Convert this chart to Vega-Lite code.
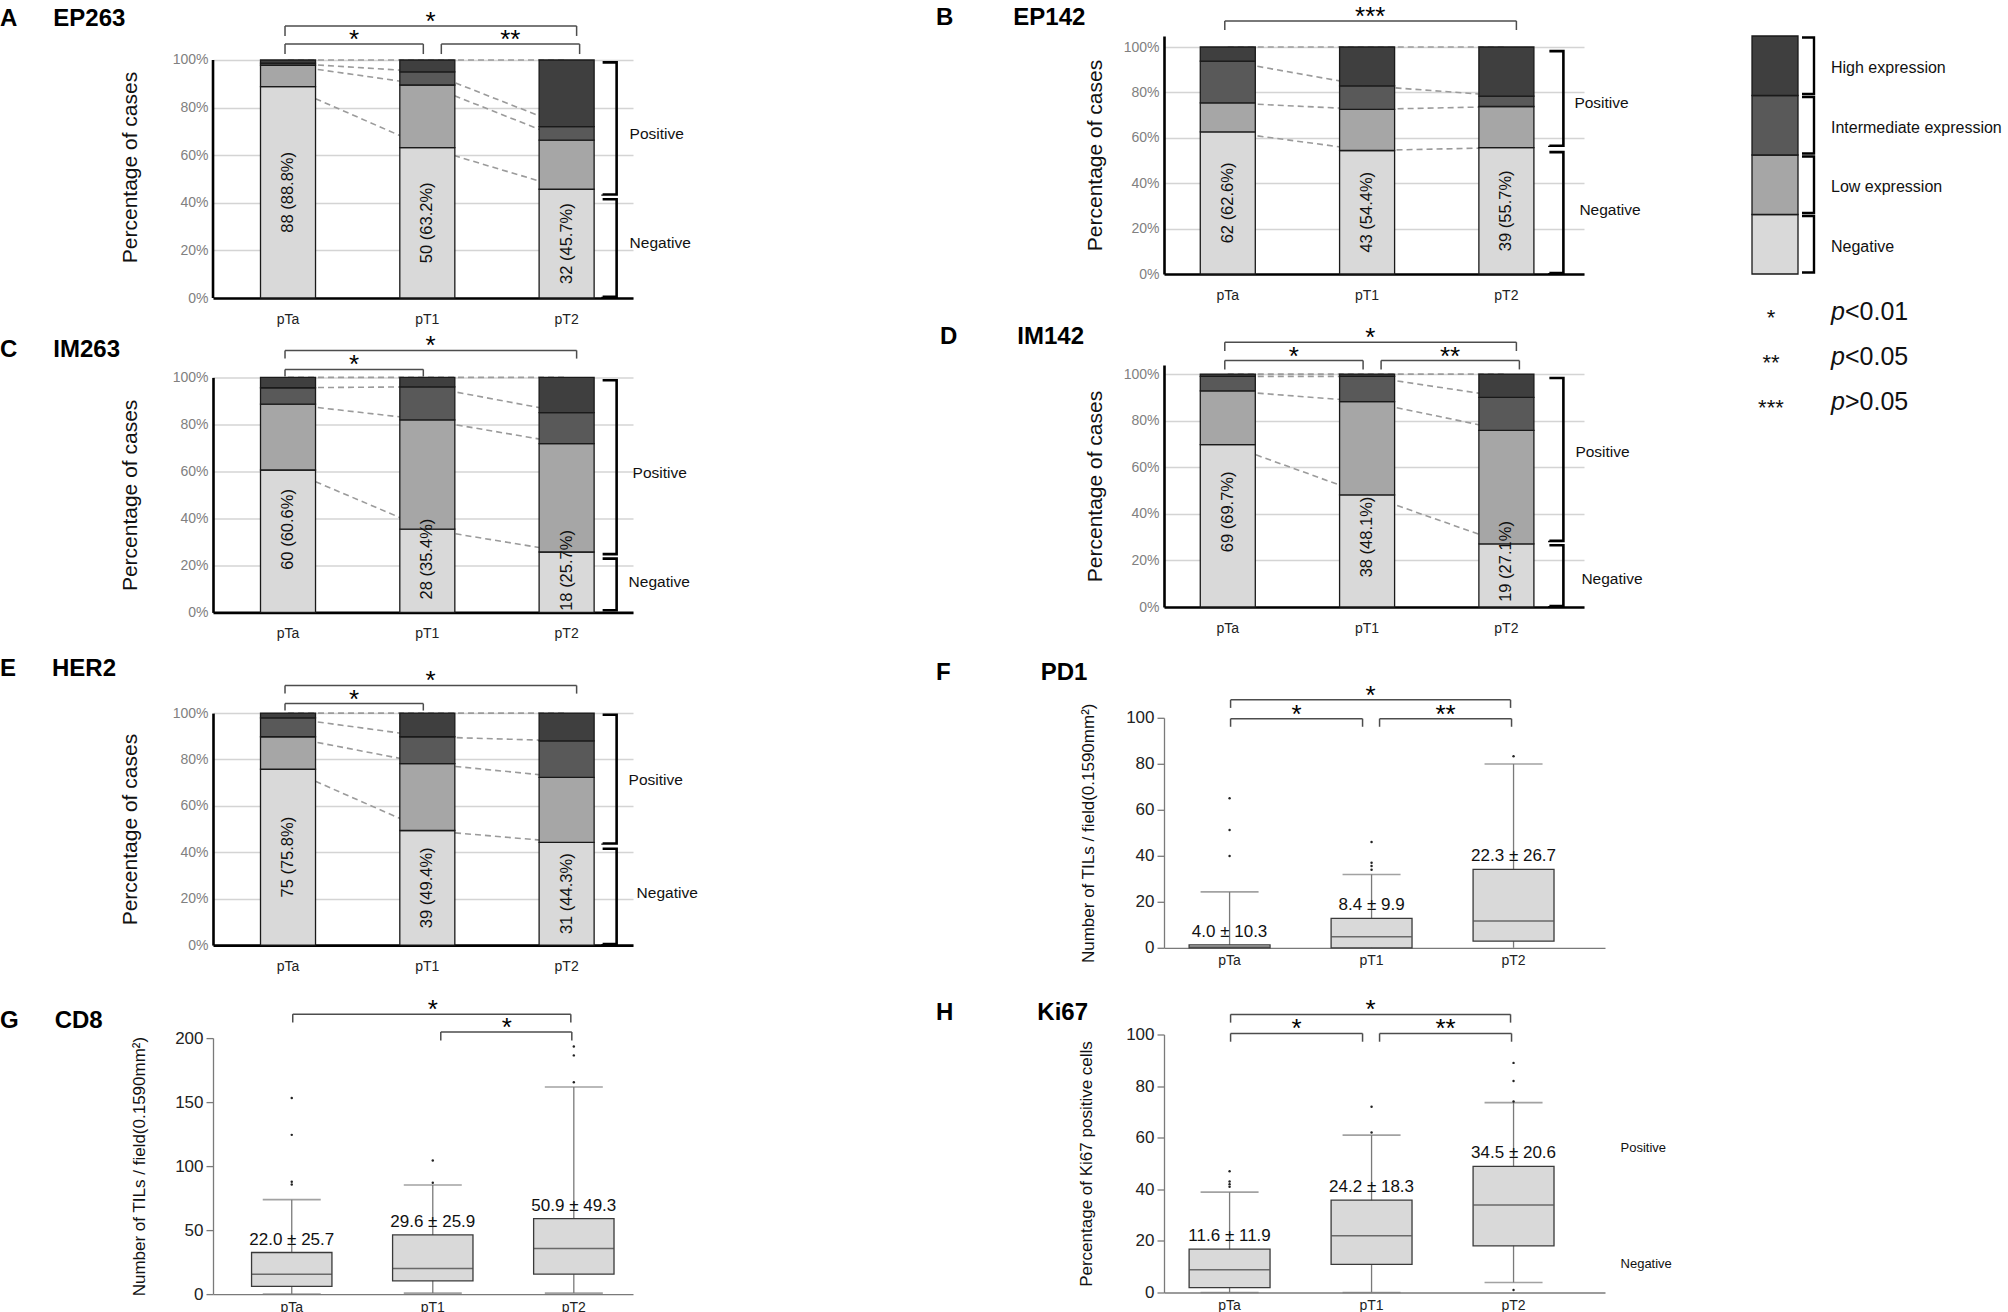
{
"$schema": "https://vega.github.io/schema/vega-lite/v6.json",
"background": "white",
"padding": {"left": 0, "top": 3, "right": 0, "bottom": 0},
"config": {"font": "Liberation Sans", "view": {"stroke": null}},
"datasets": {
"ep263": [
{"stage":"pTa","cat":"Negative","k":0,"pct":88.8,"lab":"88 (88.8%)"},{"stage":"pTa","cat":"Low expression","k":1,"pct":9.0},{"stage":"pTa","cat":"Intermediate expression","k":2,"pct":0.9},{"stage":"pTa","cat":"High expression","k":3,"pct":1.3},
{"stage":"pT1","cat":"Negative","k":0,"pct":63.2,"lab":"50 (63.2%)"},{"stage":"pT1","cat":"Low expression","k":1,"pct":26.3},{"stage":"pT1","cat":"Intermediate expression","k":2,"pct":5.5},{"stage":"pT1","cat":"High expression","k":3,"pct":5.0},
{"stage":"pT2","cat":"Negative","k":0,"pct":45.7,"lab":"32 (45.7%)"},{"stage":"pT2","cat":"Low expression","k":1,"pct":20.6},{"stage":"pT2","cat":"Intermediate expression","k":2,"pct":5.7},{"stage":"pT2","cat":"High expression","k":3,"pct":28.0}],
"ep142": [
{"stage":"pTa","cat":"Negative","k":0,"pct":62.6,"lab":"62 (62.6%)"},{"stage":"pTa","cat":"Low expression","k":1,"pct":12.8},{"stage":"pTa","cat":"Intermediate expression","k":2,"pct":18.4},{"stage":"pTa","cat":"High expression","k":3,"pct":6.2},
{"stage":"pT1","cat":"Negative","k":0,"pct":54.4,"lab":"43 (54.4%)"},{"stage":"pT1","cat":"Low expression","k":1,"pct":18.1},{"stage":"pT1","cat":"Intermediate expression","k":2,"pct":10.4},{"stage":"pT1","cat":"High expression","k":3,"pct":17.1},
{"stage":"pT2","cat":"Negative","k":0,"pct":55.7,"lab":"39 (55.7%)"},{"stage":"pT2","cat":"Low expression","k":1,"pct":18.1},{"stage":"pT2","cat":"Intermediate expression","k":2,"pct":4.6},{"stage":"pT2","cat":"High expression","k":3,"pct":21.6}],
"im263": [
{"stage":"pTa","cat":"Negative","k":0,"pct":60.6,"lab":"60 (60.6%)"},{"stage":"pTa","cat":"Low expression","k":1,"pct":28.0},{"stage":"pTa","cat":"Intermediate expression","k":2,"pct":7.0},{"stage":"pTa","cat":"High expression","k":3,"pct":4.4},
{"stage":"pT1","cat":"Negative","k":0,"pct":35.4,"lab":"28 (35.4%)"},{"stage":"pT1","cat":"Low expression","k":1,"pct":46.5},{"stage":"pT1","cat":"Intermediate expression","k":2,"pct":14.1},{"stage":"pT1","cat":"High expression","k":3,"pct":4.0},
{"stage":"pT2","cat":"Negative","k":0,"pct":25.7,"lab":"18 (25.7%)"},{"stage":"pT2","cat":"Low expression","k":1,"pct":46.1},{"stage":"pT2","cat":"Intermediate expression","k":2,"pct":13.2},{"stage":"pT2","cat":"High expression","k":3,"pct":15.0}],
"im142": [
{"stage":"pTa","cat":"Negative","k":0,"pct":69.7,"lab":"69 (69.7%)"},{"stage":"pTa","cat":"Low expression","k":1,"pct":23.1},{"stage":"pTa","cat":"Intermediate expression","k":2,"pct":6.2},{"stage":"pTa","cat":"High expression","k":3,"pct":1.0},
{"stage":"pT1","cat":"Negative","k":0,"pct":48.1,"lab":"38 (48.1%)"},{"stage":"pT1","cat":"Low expression","k":1,"pct":40.1},{"stage":"pT1","cat":"Intermediate expression","k":2,"pct":10.8},{"stage":"pT1","cat":"High expression","k":3,"pct":1.0},
{"stage":"pT2","cat":"Negative","k":0,"pct":27.1,"lab":"19 (27.1%)"},{"stage":"pT2","cat":"Low expression","k":1,"pct":48.7},{"stage":"pT2","cat":"Intermediate expression","k":2,"pct":14.2},{"stage":"pT2","cat":"High expression","k":3,"pct":10.0}],
"her2": [
{"stage":"pTa","cat":"Negative","k":0,"pct":75.8,"lab":"75 (75.8%)"},{"stage":"pTa","cat":"Low expression","k":1,"pct":14.0},{"stage":"pTa","cat":"Intermediate expression","k":2,"pct":8.1},{"stage":"pTa","cat":"High expression","k":3,"pct":2.1},
{"stage":"pT1","cat":"Negative","k":0,"pct":49.4,"lab":"39 (49.4%)"},{"stage":"pT1","cat":"Low expression","k":1,"pct":28.8},{"stage":"pT1","cat":"Intermediate expression","k":2,"pct":11.6},{"stage":"pT1","cat":"High expression","k":3,"pct":10.2},
{"stage":"pT2","cat":"Negative","k":0,"pct":44.3,"lab":"31 (44.3%)"},{"stage":"pT2","cat":"Low expression","k":1,"pct":28.0},{"stage":"pT2","cat":"Intermediate expression","k":2,"pct":15.7},{"stage":"pT2","cat":"High expression","k":3,"pct":12.0}],
"boxF": [
{"stage":"pTa","lo":0,"q1":0,"med":0.4,"q3":1.3,"hi":24.3,"lab":"4.0 ± 10.3"},
{"stage":"pT1","lo":0,"q1":0,"med":4.8,"q3":12.8,"hi":31.9,"lab":"8.4 ± 9.9"},
{"stage":"pT2","lo":0,"q1":2.9,"med":11.7,"q3":34.1,"hi":79.9,"lab":"22.3 ± 26.7"}],
"outF": [{"stage":"pTa","v":39.9},{"stage":"pTa","v":51.2},{"stage":"pTa","v":65},{"stage":"pT1","v":33.9},{"stage":"pT1","v":35.6},{"stage":"pT1","v":37},{"stage":"pT1","v":46},{"stage":"pT2","v":83.3}],
"boxG": [
{"stage":"pTa","lo":0,"q1":6,"med":15.6,"q3":32.5,"hi":73.8,"lab":"22.0 ± 25.7"},
{"stage":"pT1","lo":0.8,"q1":10.4,"med":20,"q3":46.2,"hi":85.2,"lab":"29.6 ± 25.9"},
{"stage":"pT2","lo":0.8,"q1":15.6,"med":35.6,"q3":59,"hi":161.8,"lab":"50.9 ± 49.3"}],
"outG": [{"stage":"pTa","v":85.7},{"stage":"pTa","v":87.8},{"stage":"pTa","v":124.4},{"stage":"pTa","v":153.2},{"stage":"pT1","v":87},{"stage":"pT1","v":104.4},{"stage":"pT2","v":165.5},{"stage":"pT2","v":186.5},{"stage":"pT2","v":193.5}],
"boxH": [
{"stage":"pTa","lo":0,"q1":1.9,"med":8.8,"q3":16.8,"hi":38.9,"lab":"11.6 ± 11.9"},
{"stage":"pT1","lo":0,"q1":10.9,"med":22,"q3":35.8,"hi":61,"lab":"24.2 ± 18.3"},
{"stage":"pT2","lo":3.9,"q1":18.1,"med":33.9,"q3":48.9,"hi":73.6,"lab":"34.5 ± 20.6"}],
"outH": [{"stage":"pTa","v":41},{"stage":"pTa","v":42},{"stage":"pTa","v":43},{"stage":"pTa","v":47},{"stage":"pT1","v":62},{"stage":"pT1","v":72},{"stage":"pT2","v":1},{"stage":"pT2","v":74},{"stage":"pT2","v":82},{"stage":"pT2","v":89}],
"sigA": [{"from":"pTa","to":"pT2","tier":"outer","star":"*"},{"from":"pTa","to":"pT1","tier":"left","star":"*"},{"from":"pT1","to":"pT2","tier":"right","star":"**"}],
"sigB": [{"from":"pTa","to":"pT2","tier":"outer","star":"***"}],
"sigC": [{"from":"pTa","to":"pT2","tier":"outer","star":"*"},{"from":"pTa","to":"pT1","tier":"left","star":"*"}],
"sigD": [{"from":"pTa","to":"pT2","tier":"outer","star":"*"},{"from":"pTa","to":"pT1","tier":"left","star":"*"},{"from":"pT1","to":"pT2","tier":"right","star":"**"}],
"sigE": [{"from":"pTa","to":"pT2","tier":"outer","star":"*"},{"from":"pTa","to":"pT1","tier":"left","star":"*"}],
"sigF": [{"from":"pTa","to":"pT2","tier":"outer","star":"*"},{"from":"pTa","to":"pT1","tier":"left","star":"*"},{"from":"pT1","to":"pT2","tier":"right","star":"**"}],
"sigG": [{"from":"pTa","to":"pT2","tier":"outer","star":"*"},{"from":"pT1","to":"pT2","tier":"right","star":"*"}],
"sigH": [{"from":"pTa","to":"pT2","tier":"outer","star":"*"},{"from":"pTa","to":"pT1","tier":"left","star":"*"},{"from":"pT1","to":"pT2","tier":"right","star":"**"}],
"legend": [{"cat":"Negative","k":0,"n":1},{"cat":"Low expression","k":1,"n":1},{"cat":"Intermediate expression","k":2,"n":1},{"cat":"High expression","k":3,"n":1}],
"pvals": [{"sig":"*","cmp":"<0.01"},{"sig":"**","cmp":"<0.05"},{"sig":"***","cmp":">0.05"}]
},
"spacing": 238,
"hconcat": [
{"spacing": 16.1, "vconcat": [
{"spacing": 6.4, "vconcat": [
{"width":420,"height":262,
 "title":{"text":"A\u2003\u2002EP263","anchor":"start","frame":"group","offset":0,"dx":-213,"dy":22,"fontSize":24,"fontWeight":"bold","color":"#000"},
 "resolve":{"scale":{"y":"independent"}},
 "layer":[
  {"layer":[
   {"data":{"name":"ep263"},"transform":[{"stack":"pct","groupby":["stage"],"sort":[{"field":"k"}],"as":["y0","y1"]}],"mark":{"type":"line","color":"#9b9b9b","strokeDash":[6,4],"strokeWidth":1.6},"encoding":{"x":{"field":"stage","type":"nominal","scale":{"domain":["pTa","pT1","pT2"],"paddingInner":0.605,"paddingOuter":0.31,"align":0.55},"axis":{"title":null,"domainColor":"#000","domainWidth":2.6,"ticks":false,"labelFontSize":14,"labelColor":"#222","labelPadding":14,"labelAngle":0}},"y":{"field":"y1","type":"quantitative","scale":{"domain":[0,110.08],"nice":false},"axis":{"title":"Percentage of cases","values":[0,20,40,60,80,100],"labelExpr":"datum.value + '%'","grid":true,"gridColor":"#d4d4d4","gridWidth":1.5,"domain":false,"ticks":false,"labelColor":"#808080","labelFontSize":14,"labelPadding":5,"titleFontSize":21,"titleFontWeight":"normal","titleColor":"#111","titlePadding":32}},"detail":{"field":"cat"},"order":{"value":null}}},
   {"data":{"name":"ep263"},"transform":[{"stack":"pct","groupby":["stage"],"sort":[{"field":"k"}],"as":["y0","y1"]}],"mark":{"type":"bar","stroke":"#1a1a1a","strokeWidth":1.3},"encoding":{"x":{"field":"stage","type":"nominal","scale":{"domain":["pTa","pT1","pT2"],"paddingInner":0.605,"paddingOuter":0.31,"align":0.55}},"y":{"field":"y0","type":"quantitative","scale":{"domain":[0,110.08],"nice":false}},"y2":{"field":"y1"},"color":{"field":"cat","type":"nominal","scale":{"domain":["Negative","Low expression","Intermediate expression","High expression"],"range":["#d9d9d9","#a6a6a6","#595959","#3f3f3f"]},"legend":null}}},
   {"data":{"values":[{}]},"mark":{"type":"rule","color":"#000","strokeWidth":2.6,"xOffset":-75},"encoding":{"x":{"datum":"pTa","type":"nominal","scale":{"domain":["pTa","pT1","pT2"]}},"y":{"datum":0},"y2":{"datum":100}}},
   {"data":{"values":[{}]},"mark":{"type":"bar","width":14,"xOffset":43,"filled":false,"stroke":"#000","strokeWidth":2.6,"strokeDash":[160.1,142.1]},"encoding":{"x":{"datum":"pT2","type":"nominal","scale":{"domain":["pTa","pT1","pT2"]}},"y":{"datum":43.5},"y2":{"datum":99}}},
   {"data":{"values":[{}]},"mark":{"type":"bar","width":14,"xOffset":43,"filled":false,"stroke":"#000","strokeWidth":2.6,"strokeDash":[125.6,107.6]},"encoding":{"x":{"datum":"pT2","type":"nominal","scale":{"domain":["pTa","pT1","pT2"]}},"y":{"datum":0.5},"y2":{"datum":41.5}}},
   {"data":{"values":[{}]},"mark":{"type":"text","align":"left","baseline":"middle","fontSize":15.5,"xOffset":63,"color":"#111"},"encoding":{"x":{"datum":"pT2","type":"nominal","scale":{"domain":["pTa","pT1","pT2"]}},"y":{"datum":69},"text":{"value":"Positive"}}},
   {"data":{"values":[{}]},"mark":{"type":"text","align":"left","baseline":"middle","fontSize":15.5,"xOffset":63,"color":"#111"},"encoding":{"x":{"datum":"pT2","type":"nominal","scale":{"domain":["pTa","pT1","pT2"]}},"y":{"datum":23},"text":{"value":"Negative"}}},
   {"data":{"name":"sigA"},"transform":[{"filter":{"field":"tier","equal":"outer"}}],"mark":{"type":"rule","color":"#4d4d4d","strokeWidth":1.5,"xOffset":-3,"x2Offset":10},"encoding":{"x":{"field":"from","type":"nominal","scale":{"domain":["pTa","pT1","pT2"]}},"x2":{"field":"to"},"y":{"datum":114.3}}},
   {"data":{"name":"sigA"},"transform":[{"filter":{"field":"tier","equal":"outer"}}],"mark":{"type":"rule","color":"#4d4d4d","strokeWidth":1.5,"xOffset":-3},"encoding":{"x":{"field":"from","type":"nominal","scale":{"domain":["pTa","pT1","pT2"]}},"y":{"datum":114.3},"y2":{"datum":110.1}}},
   {"data":{"name":"sigA"},"transform":[{"filter":{"field":"tier","equal":"outer"}}],"mark":{"type":"rule","color":"#4d4d4d","strokeWidth":1.5,"xOffset":10},"encoding":{"x":{"field":"to","type":"nominal","scale":{"domain":["pTa","pT1","pT2"]}},"y":{"datum":114.3},"y2":{"datum":110.1}}},
   {"data":{"name":"sigA"},"transform":[{"filter":{"field":"tier","equal":"outer"}}],"mark":{"type":"text","fontSize":26,"baseline":"alphabetic","dy":4,"xOffset":142.5,"color":"#000"},"encoding":{"x":{"field":"from","type":"nominal","scale":{"domain":["pTa","pT1","pT2"]}},"y":{"datum":114.3},"text":{"field":"star"}}},
   {"data":{"name":"sigA"},"transform":[{"filter":{"field":"tier","equal":"left"}}],"mark":{"type":"rule","color":"#4d4d4d","strokeWidth":1.5,"xOffset":-3,"x2Offset":-4},"encoding":{"x":{"field":"from","type":"nominal","scale":{"domain":["pTa","pT1","pT2"]}},"x2":{"field":"to"},"y":{"datum":106.7}}},
   {"data":{"name":"sigA"},"transform":[{"filter":{"field":"tier","equal":"left"}}],"mark":{"type":"rule","color":"#4d4d4d","strokeWidth":1.5,"xOffset":-3},"encoding":{"x":{"field":"from","type":"nominal","scale":{"domain":["pTa","pT1","pT2"]}},"y":{"datum":106.7},"y2":{"datum":102.5}}},
   {"data":{"name":"sigA"},"transform":[{"filter":{"field":"tier","equal":"left"}}],"mark":{"type":"rule","color":"#4d4d4d","strokeWidth":1.5,"xOffset":-4},"encoding":{"x":{"field":"to","type":"nominal","scale":{"domain":["pTa","pT1","pT2"]}},"y":{"datum":106.7},"y2":{"datum":102.5}}},
   {"data":{"name":"sigA"},"transform":[{"filter":{"field":"tier","equal":"left"}}],"mark":{"type":"text","fontSize":26,"baseline":"alphabetic","dy":4,"xOffset":66,"color":"#000"},"encoding":{"x":{"field":"from","type":"nominal","scale":{"domain":["pTa","pT1","pT2"]}},"y":{"datum":106.7},"text":{"field":"star"}}},
   {"data":{"name":"sigA"},"transform":[{"filter":{"field":"tier","equal":"right"}}],"mark":{"type":"rule","color":"#4d4d4d","strokeWidth":1.5,"xOffset":14,"x2Offset":13},"encoding":{"x":{"field":"from","type":"nominal","scale":{"domain":["pTa","pT1","pT2"]}},"x2":{"field":"to"},"y":{"datum":106.7}}},
   {"data":{"name":"sigA"},"transform":[{"filter":{"field":"tier","equal":"right"}}],"mark":{"type":"rule","color":"#4d4d4d","strokeWidth":1.5,"xOffset":14},"encoding":{"x":{"field":"from","type":"nominal","scale":{"domain":["pTa","pT1","pT2"]}},"y":{"datum":106.7},"y2":{"datum":102.5}}},
   {"data":{"name":"sigA"},"transform":[{"filter":{"field":"tier","equal":"right"}}],"mark":{"type":"rule","color":"#4d4d4d","strokeWidth":1.5,"xOffset":13},"encoding":{"x":{"field":"to","type":"nominal","scale":{"domain":["pTa","pT1","pT2"]}},"y":{"datum":106.7},"y2":{"datum":102.5}}},
   {"data":{"name":"sigA"},"transform":[{"filter":{"field":"tier","equal":"right"}}],"mark":{"type":"text","fontSize":26,"baseline":"alphabetic","dy":4,"xOffset":83,"color":"#000"},"encoding":{"x":{"field":"from","type":"nominal","scale":{"domain":["pTa","pT1","pT2"]}},"y":{"datum":106.7},"text":{"field":"star"}}}
  ]},
  {"data":{"name":"ep263"},"transform":[{"filter":{"field":"cat","equal":"Negative"}}],"mark":{"type":"text","angle":270,"fontSize":16.5,"color":"#111"},"encoding":{"x":{"field":"stage","type":"nominal","scale":{"domain":["pTa","pT1","pT2"]}},"y":{"field":"pct","type":"quantitative","scale":{"domain":[0,220.17],"nice":false},"axis":null},"text":{"field":"lab"}}}
 ]},
{"width":420,"height":235,
 "title":{"text":"C\u2003\u2002IM263","anchor":"start","frame":"group","offset":0,"dx":-213,"dy":29,"fontSize":24,"fontWeight":"bold","color":"#000"},
 "resolve":{"scale":{"y":"independent"}},
 "layer":[
  {"layer":[
   {"data":{"name":"im263"},"transform":[{"stack":"pct","groupby":["stage"],"sort":[{"field":"k"}],"as":["y0","y1"]}],"mark":{"type":"line","color":"#9b9b9b","strokeDash":[6,4],"strokeWidth":1.6},"encoding":{"x":{"field":"stage","type":"nominal","scale":{"domain":["pTa","pT1","pT2"],"paddingInner":0.605,"paddingOuter":0.31,"align":0.55},"axis":{"title":null,"domainColor":"#000","domainWidth":2.6,"ticks":false,"labelFontSize":14,"labelColor":"#222","labelPadding":14,"labelAngle":0}},"y":{"field":"y1","type":"quantitative","scale":{"domain":[0,100],"nice":false},"axis":{"title":"Percentage of cases","values":[0,20,40,60,80,100],"labelExpr":"datum.value + '%'","grid":true,"gridColor":"#d4d4d4","gridWidth":1.5,"domainColor":"#000","domainWidth":2.6,"ticks":false,"labelColor":"#808080","labelFontSize":14,"labelPadding":5,"titleFontSize":21,"titleFontWeight":"normal","titleColor":"#111","titlePadding":32}},"detail":{"field":"cat"},"order":{"value":null}}},
   {"data":{"name":"im263"},"transform":[{"stack":"pct","groupby":["stage"],"sort":[{"field":"k"}],"as":["y0","y1"]}],"mark":{"type":"bar","stroke":"#1a1a1a","strokeWidth":1.3},"encoding":{"x":{"field":"stage","type":"nominal","scale":{"domain":["pTa","pT1","pT2"],"paddingInner":0.605,"paddingOuter":0.31,"align":0.55}},"y":{"field":"y0","type":"quantitative","scale":{"domain":[0,100],"nice":false}},"y2":{"field":"y1"},"color":{"field":"cat","type":"nominal","scale":{"domain":["Negative","Low expression","Intermediate expression","High expression"],"range":["#d9d9d9","#a6a6a6","#595959","#3f3f3f"]},"legend":null}}},
   {"data":{"values":[{}]},"mark":{"type":"bar","width":14,"xOffset":43,"filled":false,"stroke":"#000","strokeWidth":2.6,"strokeDash":[201.9,183.9]},"encoding":{"x":{"datum":"pT2","type":"nominal","scale":{"domain":["pTa","pT1","pT2"]}},"y":{"datum":24.8},"y2":{"datum":98.8}}},
   {"data":{"values":[{}]},"mark":{"type":"bar","width":14,"xOffset":43,"filled":false,"stroke":"#000","strokeWidth":2.6,"strokeDash":[79.7,61.7]},"encoding":{"x":{"datum":"pT2","type":"nominal","scale":{"domain":["pTa","pT1","pT2"]}},"y":{"datum":0.9},"y2":{"datum":22.9}}},
   {"data":{"values":[{}]},"mark":{"type":"text","align":"left","baseline":"middle","fontSize":15.5,"xOffset":66,"color":"#111"},"encoding":{"x":{"datum":"pT2","type":"nominal","scale":{"domain":["pTa","pT1","pT2"]}},"y":{"datum":59.5},"text":{"value":"Positive"}}},
   {"data":{"values":[{}]},"mark":{"type":"text","align":"left","baseline":"middle","fontSize":15.5,"xOffset":62,"color":"#111"},"encoding":{"x":{"datum":"pT2","type":"nominal","scale":{"domain":["pTa","pT1","pT2"]}},"y":{"datum":12.9},"text":{"value":"Negative"}}},
   {"data":{"name":"sigC"},"transform":[{"filter":{"field":"tier","equal":"outer"}}],"mark":{"type":"rule","color":"#4d4d4d","strokeWidth":1.5,"xOffset":-3,"x2Offset":10},"encoding":{"x":{"field":"from","type":"nominal","scale":{"domain":["pTa","pT1","pT2"]}},"x2":{"field":"to"},"y":{"datum":111.5}}},
   {"data":{"name":"sigC"},"transform":[{"filter":{"field":"tier","equal":"outer"}}],"mark":{"type":"rule","color":"#4d4d4d","strokeWidth":1.5,"xOffset":-3},"encoding":{"x":{"field":"from","type":"nominal","scale":{"domain":["pTa","pT1","pT2"]}},"y":{"datum":111.5},"y2":{"datum":108}}},
   {"data":{"name":"sigC"},"transform":[{"filter":{"field":"tier","equal":"outer"}}],"mark":{"type":"rule","color":"#4d4d4d","strokeWidth":1.5,"xOffset":10},"encoding":{"x":{"field":"to","type":"nominal","scale":{"domain":["pTa","pT1","pT2"]}},"y":{"datum":111.5},"y2":{"datum":108}}},
   {"data":{"name":"sigC"},"transform":[{"filter":{"field":"tier","equal":"outer"}}],"mark":{"type":"text","fontSize":26,"baseline":"alphabetic","dy":4,"xOffset":142.5,"color":"#000"},"encoding":{"x":{"field":"from","type":"nominal","scale":{"domain":["pTa","pT1","pT2"]}},"y":{"datum":111.5},"text":{"field":"star"}}},
   {"data":{"name":"sigC"},"transform":[{"filter":{"field":"tier","equal":"left"}}],"mark":{"type":"rule","color":"#4d4d4d","strokeWidth":1.5,"xOffset":-3,"x2Offset":-4},"encoding":{"x":{"field":"from","type":"nominal","scale":{"domain":["pTa","pT1","pT2"]}},"x2":{"field":"to"},"y":{"datum":103.4}}},
   {"data":{"name":"sigC"},"transform":[{"filter":{"field":"tier","equal":"left"}}],"mark":{"type":"rule","color":"#4d4d4d","strokeWidth":1.5,"xOffset":-3},"encoding":{"x":{"field":"from","type":"nominal","scale":{"domain":["pTa","pT1","pT2"]}},"y":{"datum":103.4},"y2":{"datum":100.4}}},
   {"data":{"name":"sigC"},"transform":[{"filter":{"field":"tier","equal":"left"}}],"mark":{"type":"rule","color":"#4d4d4d","strokeWidth":1.5,"xOffset":-4},"encoding":{"x":{"field":"to","type":"nominal","scale":{"domain":["pTa","pT1","pT2"]}},"y":{"datum":103.4},"y2":{"datum":100.4}}},
   {"data":{"name":"sigC"},"transform":[{"filter":{"field":"tier","equal":"left"}}],"mark":{"type":"text","fontSize":26,"baseline":"alphabetic","dy":4,"xOffset":66,"color":"#000"},"encoding":{"x":{"field":"from","type":"nominal","scale":{"domain":["pTa","pT1","pT2"]}},"y":{"datum":103.4},"text":{"field":"star"}}}
  ]},
  {"data":{"name":"im263"},"transform":[{"filter":{"field":"cat","equal":"Negative"}}],"mark":{"type":"text","angle":270,"fontSize":16.5,"color":"#111"},"encoding":{"x":{"field":"stage","type":"nominal","scale":{"domain":["pTa","pT1","pT2"]}},"y":{"field":"pct","type":"quantitative","scale":{"domain":[-10,190],"nice":false,"zero":false},"axis":null},"text":{"field":"lab"}}}
 ]}
]},
{"spacing": 24, "vconcat": [
{"width":420,"height":232,
 "title":{"text":"E\u2003\u2002HER2","anchor":"start","frame":"group","offset":0,"dx":-213,"dy":13,"fontSize":24,"fontWeight":"bold","color":"#000"},
 "resolve":{"scale":{"y":"independent"}},
 "layer":[
  {"layer":[
   {"data":{"name":"her2"},"transform":[{"stack":"pct","groupby":["stage"],"sort":[{"field":"k"}],"as":["y0","y1"]}],"mark":{"type":"line","color":"#9b9b9b","strokeDash":[6,4],"strokeWidth":1.6},"encoding":{"x":{"field":"stage","type":"nominal","scale":{"domain":["pTa","pT1","pT2"],"paddingInner":0.605,"paddingOuter":0.31,"align":0.55},"axis":{"title":null,"domainColor":"#000","domainWidth":2.6,"ticks":false,"labelFontSize":14,"labelColor":"#222","labelPadding":14,"labelAngle":0}},"y":{"field":"y1","type":"quantitative","scale":{"domain":[0,100],"nice":false},"axis":{"title":"Percentage of cases","values":[0,20,40,60,80,100],"labelExpr":"datum.value + '%'","grid":true,"gridColor":"#d4d4d4","gridWidth":1.5,"domainColor":"#000","domainWidth":2.6,"ticks":false,"labelColor":"#808080","labelFontSize":14,"labelPadding":5,"titleFontSize":21,"titleFontWeight":"normal","titleColor":"#111","titlePadding":32}},"detail":{"field":"cat"},"order":{"value":null}}},
   {"data":{"name":"her2"},"transform":[{"stack":"pct","groupby":["stage"],"sort":[{"field":"k"}],"as":["y0","y1"]}],"mark":{"type":"bar","stroke":"#1a1a1a","strokeWidth":1.3},"encoding":{"x":{"field":"stage","type":"nominal","scale":{"domain":["pTa","pT1","pT2"],"paddingInner":0.605,"paddingOuter":0.31,"align":0.55}},"y":{"field":"y0","type":"quantitative","scale":{"domain":[0,100],"nice":false}},"y2":{"field":"y1"},"color":{"field":"cat","type":"nominal","scale":{"domain":["Negative","Low expression","Intermediate expression","High expression"],"range":["#d9d9d9","#a6a6a6","#595959","#3f3f3f"]},"legend":null}}},
   {"data":{"values":[{}]},"mark":{"type":"bar","width":14,"xOffset":43,"filled":false,"stroke":"#000","strokeWidth":2.6,"strokeDash":[156.8,138.8]},"encoding":{"x":{"datum":"pT2","type":"nominal","scale":{"domain":["pTa","pT1","pT2"]}},"y":{"datum":43.8},"y2":{"datum":99.3}}},
   {"data":{"values":[{}]},"mark":{"type":"bar","width":14,"xOffset":43,"filled":false,"stroke":"#000","strokeWidth":2.6,"strokeDash":[123.4,105.4]},"encoding":{"x":{"datum":"pT2","type":"nominal","scale":{"domain":["pTa","pT1","pT2"]}},"y":{"datum":0.4},"y2":{"datum":41.5}}},
   {"data":{"values":[{}]},"mark":{"type":"text","align":"left","baseline":"middle","fontSize":15.5,"xOffset":62,"color":"#111"},"encoding":{"x":{"datum":"pT2","type":"nominal","scale":{"domain":["pTa","pT1","pT2"]}},"y":{"datum":71},"text":{"value":"Positive"}}},
   {"data":{"values":[{}]},"mark":{"type":"text","align":"left","baseline":"middle","fontSize":15.5,"xOffset":70,"color":"#111"},"encoding":{"x":{"datum":"pT2","type":"nominal","scale":{"domain":["pTa","pT1","pT2"]}},"y":{"datum":22.4},"text":{"value":"Negative"}}},
   {"data":{"name":"sigE"},"transform":[{"filter":{"field":"tier","equal":"outer"}}],"mark":{"type":"rule","color":"#4d4d4d","strokeWidth":1.5,"xOffset":-3,"x2Offset":10},"encoding":{"x":{"field":"from","type":"nominal","scale":{"domain":["pTa","pT1","pT2"]}},"x2":{"field":"to"},"y":{"datum":111.9}}},
   {"data":{"name":"sigE"},"transform":[{"filter":{"field":"tier","equal":"outer"}}],"mark":{"type":"rule","color":"#4d4d4d","strokeWidth":1.5,"xOffset":-3},"encoding":{"x":{"field":"from","type":"nominal","scale":{"domain":["pTa","pT1","pT2"]}},"y":{"datum":111.9},"y2":{"datum":108.4}}},
   {"data":{"name":"sigE"},"transform":[{"filter":{"field":"tier","equal":"outer"}}],"mark":{"type":"rule","color":"#4d4d4d","strokeWidth":1.5,"xOffset":10},"encoding":{"x":{"field":"to","type":"nominal","scale":{"domain":["pTa","pT1","pT2"]}},"y":{"datum":111.9},"y2":{"datum":108.4}}},
   {"data":{"name":"sigE"},"transform":[{"filter":{"field":"tier","equal":"outer"}}],"mark":{"type":"text","fontSize":26,"baseline":"alphabetic","dy":4,"xOffset":142.5,"color":"#000"},"encoding":{"x":{"field":"from","type":"nominal","scale":{"domain":["pTa","pT1","pT2"]}},"y":{"datum":111.9},"text":{"field":"star"}}},
   {"data":{"name":"sigE"},"transform":[{"filter":{"field":"tier","equal":"left"}}],"mark":{"type":"rule","color":"#4d4d4d","strokeWidth":1.5,"xOffset":-3,"x2Offset":-4},"encoding":{"x":{"field":"from","type":"nominal","scale":{"domain":["pTa","pT1","pT2"]}},"x2":{"field":"to"},"y":{"datum":104.1}}},
   {"data":{"name":"sigE"},"transform":[{"filter":{"field":"tier","equal":"left"}}],"mark":{"type":"rule","color":"#4d4d4d","strokeWidth":1.5,"xOffset":-3},"encoding":{"x":{"field":"from","type":"nominal","scale":{"domain":["pTa","pT1","pT2"]}},"y":{"datum":104.1},"y2":{"datum":101.1}}},
   {"data":{"name":"sigE"},"transform":[{"filter":{"field":"tier","equal":"left"}}],"mark":{"type":"rule","color":"#4d4d4d","strokeWidth":1.5,"xOffset":-4},"encoding":{"x":{"field":"to","type":"nominal","scale":{"domain":["pTa","pT1","pT2"]}},"y":{"datum":104.1},"y2":{"datum":101.1}}},
   {"data":{"name":"sigE"},"transform":[{"filter":{"field":"tier","equal":"left"}}],"mark":{"type":"text","fontSize":26,"baseline":"alphabetic","dy":4,"xOffset":66,"color":"#000"},"encoding":{"x":{"field":"from","type":"nominal","scale":{"domain":["pTa","pT1","pT2"]}},"y":{"datum":104.1},"text":{"field":"star"}}}
  ]},
  {"data":{"name":"her2"},"transform":[{"filter":{"field":"cat","equal":"Negative"}}],"mark":{"type":"text","angle":270,"fontSize":16.5,"color":"#111"},"encoding":{"x":{"field":"stage","type":"nominal","scale":{"domain":["pTa","pT1","pT2"]}},"y":{"field":"pct","type":"quantitative","scale":{"domain":[0,200],"nice":false},"axis":null},"text":{"field":"lab"}}}
 ]},
{"width":420,"height":256,
 "title":{"text":"G\u2003\u2002CD8","anchor":"start","frame":"group","offset":0,"dx":-213,"dy":36,"fontSize":24,"fontWeight":"bold","color":"#000"},
 "layer":[
  {"data":{"name":"boxG"},"mark":{"type":"rule","color":"#7a7a7a","strokeWidth":1.3},"encoding":{"x":{"field":"stage","type":"nominal","scale":{"domain":["pTa","pT1","pT2"],"paddingInner":0.43,"paddingOuter":0.204,"align":0.67},"axis":{"title":null,"domainColor":"#7a7a7a","domainWidth":1.3,"ticks":false,"labelFontSize":14,"labelColor":"#222","labelPadding":6,"labelAngle":0}},"y":{"field":"lo","type":"quantitative","scale":{"domain":[0,200],"nice":false},"axis":{"title":"Number of TILs / field(0.1590mm²)","values":[0,50,100,150,200],"grid":false,"domainColor":"#7a7a7a","domainWidth":1.3,"tickColor":"#7a7a7a","tickSize":7,"tickWidth":1.3,"labelFontSize":17,"labelColor":"#222","labelPadding":3,"titleFontSize":17,"titleFontWeight":"normal","titleColor":"#111","titlePadding":26}},"y2":{"field":"hi"}}},
  {"data":{"name":"boxG"},"mark":{"type":"tick","orient":"horizontal","size":58,"thickness":1.6,"color":"#7a7a7a"},"encoding":{"x":{"field":"stage","type":"nominal","scale":{"domain":["pTa","pT1","pT2"]}},"y":{"field":"hi","type":"quantitative"}}},
  {"data":{"name":"boxG"},"mark":{"type":"tick","orient":"horizontal","size":58,"thickness":1.6,"color":"#7a7a7a"},"encoding":{"x":{"field":"stage","type":"nominal","scale":{"domain":["pTa","pT1","pT2"]}},"y":{"field":"lo","type":"quantitative"}}},
  {"data":{"name":"boxG"},"mark":{"type":"bar","fill":"#d9d9d9","stroke":"#3a3a3a","strokeWidth":1.3},"encoding":{"x":{"field":"stage","type":"nominal","scale":{"domain":["pTa","pT1","pT2"]}},"y":{"field":"q1","type":"quantitative"},"y2":{"field":"q3"}}},
  {"data":{"name":"boxG"},"mark":{"type":"tick","orient":"horizontal","size":80,"thickness":1.5,"color":"#3a3a3a"},"encoding":{"x":{"field":"stage","type":"nominal","scale":{"domain":["pTa","pT1","pT2"]}},"y":{"field":"med","type":"quantitative"}}},
  {"data":{"name":"outG"},"mark":{"type":"point","filled":true,"size":6,"color":"#222","opacity":1},"encoding":{"x":{"field":"stage","type":"nominal","scale":{"domain":["pTa","pT1","pT2"]}},"y":{"field":"v","type":"quantitative"}}},
  {"data":{"name":"boxG"},"mark":{"type":"text","baseline":"bottom","dy":-4,"fontSize":17,"color":"#111"},"encoding":{"x":{"field":"stage","type":"nominal","scale":{"domain":["pTa","pT1","pT2"]}},"y":{"field":"q3","type":"quantitative"},"text":{"field":"lab"}}},
  {"data":{"name":"sigG"},"transform":[{"filter":{"field":"tier","equal":"outer"}}],"mark":{"type":"rule","color":"#4d4d4d","strokeWidth":1.5,"xOffset":1,"x2Offset":-3},"encoding":{"x":{"field":"from","type":"nominal","scale":{"domain":["pTa","pT1","pT2"]}},"x2":{"field":"to"},"y":{"datum":218.7}}},
  {"data":{"name":"sigG"},"transform":[{"filter":{"field":"tier","equal":"outer"}}],"mark":{"type":"rule","color":"#4d4d4d","strokeWidth":1.5,"xOffset":1},"encoding":{"x":{"field":"from","type":"nominal","scale":{"domain":["pTa","pT1","pT2"]}},"y":{"datum":218.7},"y2":{"datum":212.2}}},
  {"data":{"name":"sigG"},"transform":[{"filter":{"field":"tier","equal":"outer"}}],"mark":{"type":"rule","color":"#4d4d4d","strokeWidth":1.5,"xOffset":-3},"encoding":{"x":{"field":"to","type":"nominal","scale":{"domain":["pTa","pT1","pT2"]}},"y":{"datum":218.7},"y2":{"datum":212.2}}},
  {"data":{"name":"sigG"},"transform":[{"filter":{"field":"tier","equal":"outer"}}],"mark":{"type":"text","fontSize":26,"baseline":"alphabetic","dy":4,"xOffset":141,"color":"#000"},"encoding":{"x":{"field":"from","type":"nominal","scale":{"domain":["pTa","pT1","pT2"]}},"y":{"datum":218.7},"text":{"field":"star"}}},
  {"data":{"name":"sigG"},"transform":[{"filter":{"field":"tier","equal":"right"}}],"mark":{"type":"rule","color":"#4d4d4d","strokeWidth":1.5,"xOffset":8,"x2Offset":-2},"encoding":{"x":{"field":"from","type":"nominal","scale":{"domain":["pTa","pT1","pT2"]}},"x2":{"field":"to"},"y":{"datum":204.7}}},
  {"data":{"name":"sigG"},"transform":[{"filter":{"field":"tier","equal":"right"}}],"mark":{"type":"rule","color":"#4d4d4d","strokeWidth":1.5,"xOffset":8},"encoding":{"x":{"field":"from","type":"nominal","scale":{"domain":["pTa","pT1","pT2"]}},"y":{"datum":204.7},"y2":{"datum":198.2}}},
  {"data":{"name":"sigG"},"transform":[{"filter":{"field":"tier","equal":"right"}}],"mark":{"type":"rule","color":"#4d4d4d","strokeWidth":1.5,"xOffset":-2},"encoding":{"x":{"field":"to","type":"nominal","scale":{"domain":["pTa","pT1","pT2"]}},"y":{"datum":204.7},"y2":{"datum":198.2}}},
  {"data":{"name":"sigG"},"transform":[{"filter":{"field":"tier","equal":"right"}}],"mark":{"type":"text","fontSize":26,"baseline":"alphabetic","dy":4,"xOffset":74,"color":"#000"},"encoding":{"x":{"field":"from","type":"nominal","scale":{"domain":["pTa","pT1","pT2"]}},"y":{"datum":204.7},"text":{"field":"star"}}}
 ]}
]}
]},
{"spacing": 79, "hconcat": [
{"spacing": 25.8, "vconcat": [
{"spacing": 23, "vconcat": [
{"width":420,"height":238,
 "title":{"text":"B\u2003\u2003\u2002EP142","anchor":"start","frame":"group","offset":0,"dx":-228,"dy":26.4,"fontSize":24,"fontWeight":"bold","color":"#000"},
 "resolve":{"scale":{"y":"independent"}},
 "layer":[
  {"layer":[
   {"data":{"name":"ep142"},"transform":[{"stack":"pct","groupby":["stage"],"sort":[{"field":"k"}],"as":["y0","y1"]}],"mark":{"type":"line","color":"#9b9b9b","strokeDash":[6,4],"strokeWidth":1.6},"encoding":{"x":{"field":"stage","type":"nominal","scale":{"domain":["pTa","pT1","pT2"],"paddingInner":0.605,"paddingOuter":0.31,"align":0.42},"axis":{"title":null,"domainColor":"#000","domainWidth":2.6,"ticks":false,"labelFontSize":14,"labelColor":"#222","labelPadding":14,"labelAngle":0}},"y":{"field":"y1","type":"quantitative","scale":{"domain":[0,104.85],"nice":false},"axis":{"title":"Percentage of cases","values":[0,20,40,60,80,100],"labelExpr":"datum.value + '%'","grid":true,"gridColor":"#d4d4d4","gridWidth":1.5,"domainColor":"#000","domainWidth":2.6,"ticks":false,"labelColor":"#808080","labelFontSize":14,"labelPadding":5,"titleFontSize":21,"titleFontWeight":"normal","titleColor":"#111","titlePadding":18}},"detail":{"field":"cat"},"order":{"value":null}}},
   {"data":{"name":"ep142"},"transform":[{"stack":"pct","groupby":["stage"],"sort":[{"field":"k"}],"as":["y0","y1"]}],"mark":{"type":"bar","stroke":"#1a1a1a","strokeWidth":1.3},"encoding":{"x":{"field":"stage","type":"nominal","scale":{"domain":["pTa","pT1","pT2"],"paddingInner":0.605,"paddingOuter":0.31,"align":0.42}},"y":{"field":"y0","type":"quantitative","scale":{"domain":[0,104.85],"nice":false}},"y2":{"field":"y1"},"color":{"field":"cat","type":"nominal","scale":{"domain":["Negative","Low expression","Intermediate expression","High expression"],"range":["#d9d9d9","#a6a6a6","#595959","#3f3f3f"]},"legend":null}}},
   {"data":{"values":[{}]},"mark":{"type":"bar","width":14,"xOffset":50,"filled":false,"stroke":"#000","strokeWidth":2.6,"strokeDash":[122.7,104.7]},"encoding":{"x":{"datum":"pT2","type":"nominal","scale":{"domain":["pTa","pT1","pT2"]}},"y":{"datum":56.5},"y2":{"datum":98.2}}},
   {"data":{"values":[{}]},"mark":{"type":"bar","width":14,"xOffset":50,"filled":false,"stroke":"#000","strokeWidth":2.6,"strokeDash":[149,131]},"encoding":{"x":{"datum":"pT2","type":"nominal","scale":{"domain":["pTa","pT1","pT2"]}},"y":{"datum":0.4},"y2":{"datum":53.7}}},
   {"data":{"values":[{}]},"mark":{"type":"text","align":"left","baseline":"middle","fontSize":15.5,"xOffset":68,"color":"#111"},"encoding":{"x":{"datum":"pT2","type":"nominal","scale":{"domain":["pTa","pT1","pT2"]}},"y":{"datum":75.3},"text":{"value":"Positive"}}},
   {"data":{"values":[{}]},"mark":{"type":"text","align":"left","baseline":"middle","fontSize":15.5,"xOffset":73,"color":"#111"},"encoding":{"x":{"datum":"pT2","type":"nominal","scale":{"domain":["pTa","pT1","pT2"]}},"y":{"datum":28.2},"text":{"value":"Negative"}}},
   {"data":{"name":"sigB"},"transform":[{"filter":{"field":"tier","equal":"outer"}}],"mark":{"type":"rule","color":"#4d4d4d","strokeWidth":1.5,"xOffset":-3,"x2Offset":10},"encoding":{"x":{"field":"from","type":"nominal","scale":{"domain":["pTa","pT1","pT2"]}},"x2":{"field":"to"},"y":{"datum":111.5}}},
   {"data":{"name":"sigB"},"transform":[{"filter":{"field":"tier","equal":"outer"}}],"mark":{"type":"rule","color":"#4d4d4d","strokeWidth":1.5,"xOffset":-3},"encoding":{"x":{"field":"from","type":"nominal","scale":{"domain":["pTa","pT1","pT2"]}},"y":{"datum":111.5},"y2":{"datum":107.5}}},
   {"data":{"name":"sigB"},"transform":[{"filter":{"field":"tier","equal":"outer"}}],"mark":{"type":"rule","color":"#4d4d4d","strokeWidth":1.5,"xOffset":10},"encoding":{"x":{"field":"to","type":"nominal","scale":{"domain":["pTa","pT1","pT2"]}},"y":{"datum":111.5},"y2":{"datum":107.5}}},
   {"data":{"name":"sigB"},"transform":[{"filter":{"field":"tier","equal":"outer"}}],"mark":{"type":"text","fontSize":26,"baseline":"alphabetic","dy":4,"xOffset":142.5,"color":"#000"},"encoding":{"x":{"field":"from","type":"nominal","scale":{"domain":["pTa","pT1","pT2"]}},"y":{"datum":111.5},"text":{"field":"star"}}}
  ]},
  {"data":{"name":"ep142"},"transform":[{"filter":{"field":"cat","equal":"Negative"}}],"mark":{"type":"text","angle":270,"fontSize":16.5,"color":"#111"},"encoding":{"x":{"field":"stage","type":"nominal","scale":{"domain":["pTa","pT1","pT2"]}},"y":{"field":"pct","type":"quantitative","scale":{"domain":[0,209.7],"nice":false},"axis":null},"text":{"field":"lab"}}}
 ]},
{"width":420,"height":242,
 "title":{"text":"D\u2003\u2003\u2002IM142","anchor":"start","frame":"group","offset":0,"dx":-224,"dy":24,"fontSize":24,"fontWeight":"bold","color":"#000"},
 "resolve":{"scale":{"y":"independent"}},
 "layer":[
  {"layer":[
   {"data":{"name":"im142"},"transform":[{"stack":"pct","groupby":["stage"],"sort":[{"field":"k"}],"as":["y0","y1"]}],"mark":{"type":"line","color":"#9b9b9b","strokeDash":[6,4],"strokeWidth":1.6},"encoding":{"x":{"field":"stage","type":"nominal","scale":{"domain":["pTa","pT1","pT2"],"paddingInner":0.605,"paddingOuter":0.31,"align":0.42},"axis":{"title":null,"domainColor":"#000","domainWidth":2.6,"ticks":false,"labelFontSize":14,"labelColor":"#222","labelPadding":14,"labelAngle":0}},"y":{"field":"y1","type":"quantitative","scale":{"domain":[0,103.9],"nice":false},"axis":{"title":"Percentage of cases","values":[0,20,40,60,80,100],"labelExpr":"datum.value + '%'","grid":true,"gridColor":"#d4d4d4","gridWidth":1.5,"domainColor":"#000","domainWidth":2.6,"ticks":false,"labelColor":"#808080","labelFontSize":14,"labelPadding":5,"titleFontSize":21,"titleFontWeight":"normal","titleColor":"#111","titlePadding":18}},"detail":{"field":"cat"},"order":{"value":null}}},
   {"data":{"name":"im142"},"transform":[{"stack":"pct","groupby":["stage"],"sort":[{"field":"k"}],"as":["y0","y1"]}],"mark":{"type":"bar","stroke":"#1a1a1a","strokeWidth":1.3},"encoding":{"x":{"field":"stage","type":"nominal","scale":{"domain":["pTa","pT1","pT2"],"paddingInner":0.605,"paddingOuter":0.31,"align":0.42}},"y":{"field":"y0","type":"quantitative","scale":{"domain":[0,103.9],"nice":false}},"y2":{"field":"y1"},"color":{"field":"cat","type":"nominal","scale":{"domain":["Negative","Low expression","Intermediate expression","High expression"],"range":["#d9d9d9","#a6a6a6","#595959","#3f3f3f"]},"legend":null}}},
   {"data":{"values":[{}]},"mark":{"type":"bar","width":14,"xOffset":50,"filled":false,"stroke":"#000","strokeWidth":2.6,"strokeDash":[190.9,172.9]},"encoding":{"x":{"datum":"pT2","type":"nominal","scale":{"domain":["pTa","pT1","pT2"]}},"y":{"datum":28.4},"y2":{"datum":98.3}}},
   {"data":{"values":[{}]},"mark":{"type":"bar","width":14,"xOffset":50,"filled":false,"stroke":"#000","strokeWidth":2.6,"strokeDash":[88.8,70.8]},"encoding":{"x":{"datum":"pT2","type":"nominal","scale":{"domain":["pTa","pT1","pT2"]}},"y":{"datum":0.4},"y2":{"datum":26.5}}},
   {"data":{"values":[{}]},"mark":{"type":"text","align":"left","baseline":"middle","fontSize":15.5,"xOffset":69,"color":"#111"},"encoding":{"x":{"datum":"pT2","type":"nominal","scale":{"domain":["pTa","pT1","pT2"]}},"y":{"datum":66.7},"text":{"value":"Positive"}}},
   {"data":{"values":[{}]},"mark":{"type":"text","align":"left","baseline":"middle","fontSize":15.5,"xOffset":75,"color":"#111"},"encoding":{"x":{"datum":"pT2","type":"nominal","scale":{"domain":["pTa","pT1","pT2"]}},"y":{"datum":12},"text":{"value":"Negative"}}},
   {"data":{"name":"sigD"},"transform":[{"filter":{"field":"tier","equal":"outer"}}],"mark":{"type":"rule","color":"#4d4d4d","strokeWidth":1.5,"xOffset":-3,"x2Offset":10},"encoding":{"x":{"field":"from","type":"nominal","scale":{"domain":["pTa","pT1","pT2"]}},"x2":{"field":"to"},"y":{"datum":113.7}}},
   {"data":{"name":"sigD"},"transform":[{"filter":{"field":"tier","equal":"outer"}}],"mark":{"type":"rule","color":"#4d4d4d","strokeWidth":1.5,"xOffset":-3},"encoding":{"x":{"field":"from","type":"nominal","scale":{"domain":["pTa","pT1","pT2"]}},"y":{"datum":113.7},"y2":{"datum":109.9}}},
   {"data":{"name":"sigD"},"transform":[{"filter":{"field":"tier","equal":"outer"}}],"mark":{"type":"rule","color":"#4d4d4d","strokeWidth":1.5,"xOffset":10},"encoding":{"x":{"field":"to","type":"nominal","scale":{"domain":["pTa","pT1","pT2"]}},"y":{"datum":113.7},"y2":{"datum":109.9}}},
   {"data":{"name":"sigD"},"transform":[{"filter":{"field":"tier","equal":"outer"}}],"mark":{"type":"text","fontSize":26,"baseline":"alphabetic","dy":4,"xOffset":142.5,"color":"#000"},"encoding":{"x":{"field":"from","type":"nominal","scale":{"domain":["pTa","pT1","pT2"]}},"y":{"datum":113.7},"text":{"field":"star"}}},
   {"data":{"name":"sigD"},"transform":[{"filter":{"field":"tier","equal":"left"}}],"mark":{"type":"rule","color":"#4d4d4d","strokeWidth":1.5,"xOffset":-3,"x2Offset":-4},"encoding":{"x":{"field":"from","type":"nominal","scale":{"domain":["pTa","pT1","pT2"]}},"x2":{"field":"to"},"y":{"datum":105.8}}},
   {"data":{"name":"sigD"},"transform":[{"filter":{"field":"tier","equal":"left"}}],"mark":{"type":"rule","color":"#4d4d4d","strokeWidth":1.5,"xOffset":-3},"encoding":{"x":{"field":"from","type":"nominal","scale":{"domain":["pTa","pT1","pT2"]}},"y":{"datum":105.8},"y2":{"datum":102}}},
   {"data":{"name":"sigD"},"transform":[{"filter":{"field":"tier","equal":"left"}}],"mark":{"type":"rule","color":"#4d4d4d","strokeWidth":1.5,"xOffset":-4},"encoding":{"x":{"field":"to","type":"nominal","scale":{"domain":["pTa","pT1","pT2"]}},"y":{"datum":105.8},"y2":{"datum":102}}},
   {"data":{"name":"sigD"},"transform":[{"filter":{"field":"tier","equal":"left"}}],"mark":{"type":"text","fontSize":26,"baseline":"alphabetic","dy":4,"xOffset":66,"color":"#000"},"encoding":{"x":{"field":"from","type":"nominal","scale":{"domain":["pTa","pT1","pT2"]}},"y":{"datum":105.8},"text":{"field":"star"}}},
   {"data":{"name":"sigD"},"transform":[{"filter":{"field":"tier","equal":"right"}}],"mark":{"type":"rule","color":"#4d4d4d","strokeWidth":1.5,"xOffset":14,"x2Offset":13},"encoding":{"x":{"field":"from","type":"nominal","scale":{"domain":["pTa","pT1","pT2"]}},"x2":{"field":"to"},"y":{"datum":105.8}}},
   {"data":{"name":"sigD"},"transform":[{"filter":{"field":"tier","equal":"right"}}],"mark":{"type":"rule","color":"#4d4d4d","strokeWidth":1.5,"xOffset":14},"encoding":{"x":{"field":"from","type":"nominal","scale":{"domain":["pTa","pT1","pT2"]}},"y":{"datum":105.8},"y2":{"datum":102}}},
   {"data":{"name":"sigD"},"transform":[{"filter":{"field":"tier","equal":"right"}}],"mark":{"type":"rule","color":"#4d4d4d","strokeWidth":1.5,"xOffset":13},"encoding":{"x":{"field":"to","type":"nominal","scale":{"domain":["pTa","pT1","pT2"]}},"y":{"datum":105.8},"y2":{"datum":102}}},
   {"data":{"name":"sigD"},"transform":[{"filter":{"field":"tier","equal":"right"}}],"mark":{"type":"text","fontSize":26,"baseline":"alphabetic","dy":4,"xOffset":83,"color":"#000"},"encoding":{"x":{"field":"from","type":"nominal","scale":{"domain":["pTa","pT1","pT2"]}},"y":{"datum":105.8},"text":{"field":"star"}}}
  ]},
  {"data":{"name":"im142"},"transform":[{"filter":{"field":"cat","equal":"Negative"}}],"mark":{"type":"text","angle":270,"fontSize":16.5,"color":"#111"},"encoding":{"x":{"field":"stage","type":"nominal","scale":{"domain":["pTa","pT1","pT2"]}},"y":{"field":"pct","type":"quantitative","scale":{"domain":[-12,195.8],"nice":false,"zero":false},"axis":null},"text":{"field":"lab"}}}
 ]}
]},
{"spacing": 28.7, "vconcat": [
{"width":441,"height":230,
 "title":{"text":"F\u2003\u2003\u2003\u2002\u2005PD1","anchor":"start","frame":"group","offset":0,"dx":-228,"dy":2,"fontSize":24,"fontWeight":"bold","color":"#000"},
 "layer":[
  {"data":{"name":"boxF"},"mark":{"type":"rule","color":"#7a7a7a","strokeWidth":1.3},"encoding":{"x":{"field":"stage","type":"nominal","scale":{"domain":["pTa","pT1","pT2"],"paddingInner":0.43,"paddingOuter":0.268,"align":0.33},"axis":{"title":null,"domainColor":"#7a7a7a","domainWidth":1.3,"ticks":false,"labelFontSize":14,"labelColor":"#222","labelPadding":6,"labelAngle":0}},"y":{"field":"lo","type":"quantitative","scale":{"domain":[0,100],"nice":false},"axis":{"title":"Number of TILs / field(0.1590mm²)","values":[0,20,40,60,80,100],"grid":false,"domainColor":"#7a7a7a","domainWidth":1.3,"tickColor":"#7a7a7a","tickSize":7,"tickWidth":1.3,"labelFontSize":17,"labelColor":"#222","labelPadding":3,"titleFontSize":17,"titleFontWeight":"normal","titleColor":"#111","titlePadding":28}},"y2":{"field":"hi"}}},
  {"data":{"name":"boxF"},"mark":{"type":"tick","orient":"horizontal","size":58,"thickness":1.6,"color":"#7a7a7a"},"encoding":{"x":{"field":"stage","type":"nominal","scale":{"domain":["pTa","pT1","pT2"]}},"y":{"field":"hi","type":"quantitative"}}},
  {"data":{"name":"boxF"},"mark":{"type":"bar","fill":"#d9d9d9","stroke":"#3a3a3a","strokeWidth":1.3},"encoding":{"x":{"field":"stage","type":"nominal","scale":{"domain":["pTa","pT1","pT2"]}},"y":{"field":"q1","type":"quantitative"},"y2":{"field":"q3"}}},
  {"data":{"name":"boxF"},"mark":{"type":"tick","orient":"horizontal","size":80,"thickness":1.5,"color":"#3a3a3a"},"encoding":{"x":{"field":"stage","type":"nominal","scale":{"domain":["pTa","pT1","pT2"]}},"y":{"field":"med","type":"quantitative"}}},
  {"data":{"name":"outF"},"mark":{"type":"point","filled":true,"size":6,"color":"#222","opacity":1},"encoding":{"x":{"field":"stage","type":"nominal","scale":{"domain":["pTa","pT1","pT2"]}},"y":{"field":"v","type":"quantitative"}}},
  {"data":{"name":"boxF"},"mark":{"type":"text","baseline":"bottom","dy":-4,"fontSize":17,"color":"#111"},"encoding":{"x":{"field":"stage","type":"nominal","scale":{"domain":["pTa","pT1","pT2"]}},"y":{"field":"q3","type":"quantitative"},"text":{"field":"lab"}}},
  {"data":{"name":"sigF"},"transform":[{"filter":{"field":"tier","equal":"outer"}}],"mark":{"type":"rule","color":"#4d4d4d","strokeWidth":1.5,"xOffset":1,"x2Offset":-3},"encoding":{"x":{"field":"from","type":"nominal","scale":{"domain":["pTa","pT1","pT2"]}},"x2":{"field":"to"},"y":{"datum":107.8}}},
  {"data":{"name":"sigF"},"transform":[{"filter":{"field":"tier","equal":"outer"}}],"mark":{"type":"rule","color":"#4d4d4d","strokeWidth":1.5,"xOffset":1},"encoding":{"x":{"field":"from","type":"nominal","scale":{"domain":["pTa","pT1","pT2"]}},"y":{"datum":107.8},"y2":{"datum":104.3}}},
  {"data":{"name":"sigF"},"transform":[{"filter":{"field":"tier","equal":"outer"}}],"mark":{"type":"rule","color":"#4d4d4d","strokeWidth":1.5,"xOffset":-3},"encoding":{"x":{"field":"to","type":"nominal","scale":{"domain":["pTa","pT1","pT2"]}},"y":{"datum":107.8},"y2":{"datum":104.3}}},
  {"data":{"name":"sigF"},"transform":[{"filter":{"field":"tier","equal":"outer"}}],"mark":{"type":"text","fontSize":26,"baseline":"alphabetic","dy":4,"xOffset":141,"color":"#000"},"encoding":{"x":{"field":"from","type":"nominal","scale":{"domain":["pTa","pT1","pT2"]}},"y":{"datum":107.8},"text":{"field":"star"}}},
  {"data":{"name":"sigF"},"transform":[{"filter":{"field":"tier","equal":"left"}}],"mark":{"type":"rule","color":"#4d4d4d","strokeWidth":1.5,"xOffset":1,"x2Offset":-9},"encoding":{"x":{"field":"from","type":"nominal","scale":{"domain":["pTa","pT1","pT2"]}},"x2":{"field":"to"},"y":{"datum":99.6}}},
  {"data":{"name":"sigF"},"transform":[{"filter":{"field":"tier","equal":"left"}}],"mark":{"type":"rule","color":"#4d4d4d","strokeWidth":1.5,"xOffset":1},"encoding":{"x":{"field":"from","type":"nominal","scale":{"domain":["pTa","pT1","pT2"]}},"y":{"datum":99.6},"y2":{"datum":96.1}}},
  {"data":{"name":"sigF"},"transform":[{"filter":{"field":"tier","equal":"left"}}],"mark":{"type":"rule","color":"#4d4d4d","strokeWidth":1.5,"xOffset":-9},"encoding":{"x":{"field":"to","type":"nominal","scale":{"domain":["pTa","pT1","pT2"]}},"y":{"datum":99.6},"y2":{"datum":96.1}}},
  {"data":{"name":"sigF"},"transform":[{"filter":{"field":"tier","equal":"left"}}],"mark":{"type":"text","fontSize":26,"baseline":"alphabetic","dy":4,"xOffset":67,"color":"#000"},"encoding":{"x":{"field":"from","type":"nominal","scale":{"domain":["pTa","pT1","pT2"]}},"y":{"datum":99.6},"text":{"field":"star"}}},
  {"data":{"name":"sigF"},"transform":[{"filter":{"field":"tier","equal":"right"}}],"mark":{"type":"rule","color":"#4d4d4d","strokeWidth":1.5,"xOffset":8,"x2Offset":-2},"encoding":{"x":{"field":"from","type":"nominal","scale":{"domain":["pTa","pT1","pT2"]}},"x2":{"field":"to"},"y":{"datum":99.6}}},
  {"data":{"name":"sigF"},"transform":[{"filter":{"field":"tier","equal":"right"}}],"mark":{"type":"rule","color":"#4d4d4d","strokeWidth":1.5,"xOffset":8},"encoding":{"x":{"field":"from","type":"nominal","scale":{"domain":["pTa","pT1","pT2"]}},"y":{"datum":99.6},"y2":{"datum":96.1}}},
  {"data":{"name":"sigF"},"transform":[{"filter":{"field":"tier","equal":"right"}}],"mark":{"type":"rule","color":"#4d4d4d","strokeWidth":1.5,"xOffset":-2},"encoding":{"x":{"field":"to","type":"nominal","scale":{"domain":["pTa","pT1","pT2"]}},"y":{"datum":99.6},"y2":{"datum":96.1}}},
  {"data":{"name":"sigF"},"transform":[{"filter":{"field":"tier","equal":"right"}}],"mark":{"type":"text","fontSize":26,"baseline":"alphabetic","dy":4,"xOffset":74,"color":"#000"},"encoding":{"x":{"field":"from","type":"nominal","scale":{"domain":["pTa","pT1","pT2"]}},"y":{"datum":99.6},"text":{"field":"star"}}}
 ]},
{"width":441,"height":258,
 "title":{"text":"H\u2003\u2003\u2003\u2002Ki67","anchor":"start","frame":"group","offset":0,"dx":-228,"dy":28,"fontSize":24,"fontWeight":"bold","color":"#000"},
 "layer":[
  {"data":{"name":"boxH"},"mark":{"type":"rule","color":"#7a7a7a","strokeWidth":1.3},"encoding":{"x":{"field":"stage","type":"nominal","scale":{"domain":["pTa","pT1","pT2"],"paddingInner":0.43,"paddingOuter":0.268,"align":0.33},"axis":{"title":null,"domainColor":"#7a7a7a","domainWidth":1.3,"ticks":false,"labelFontSize":14,"labelColor":"#222","labelPadding":6,"labelAngle":0}},"y":{"field":"lo","type":"quantitative","scale":{"domain":[0,100],"nice":false},"axis":{"title":"Percentage of Ki67 positive cells","values":[0,20,40,60,80,100],"grid":false,"domainColor":"#7a7a7a","domainWidth":1.3,"tickColor":"#7a7a7a","tickSize":7,"tickWidth":1.3,"labelFontSize":17,"labelColor":"#222","labelPadding":3,"titleFontSize":17,"titleFontWeight":"normal","titleColor":"#111","titlePadding":30}},"y2":{"field":"hi"}}},
  {"data":{"name":"boxH"},"mark":{"type":"tick","orient":"horizontal","size":58,"thickness":1.6,"color":"#7a7a7a"},"encoding":{"x":{"field":"stage","type":"nominal","scale":{"domain":["pTa","pT1","pT2"]}},"y":{"field":"hi","type":"quantitative"}}},
  {"data":{"name":"boxH"},"mark":{"type":"tick","orient":"horizontal","size":58,"thickness":1.6,"color":"#7a7a7a"},"encoding":{"x":{"field":"stage","type":"nominal","scale":{"domain":["pTa","pT1","pT2"]}},"y":{"field":"lo","type":"quantitative"}}},
  {"data":{"name":"boxH"},"mark":{"type":"bar","fill":"#d9d9d9","stroke":"#3a3a3a","strokeWidth":1.3},"encoding":{"x":{"field":"stage","type":"nominal","scale":{"domain":["pTa","pT1","pT2"]}},"y":{"field":"q1","type":"quantitative"},"y2":{"field":"q3"}}},
  {"data":{"name":"boxH"},"mark":{"type":"tick","orient":"horizontal","size":80,"thickness":1.5,"color":"#3a3a3a"},"encoding":{"x":{"field":"stage","type":"nominal","scale":{"domain":["pTa","pT1","pT2"]}},"y":{"field":"med","type":"quantitative"}}},
  {"data":{"name":"outH"},"mark":{"type":"point","filled":true,"size":6,"color":"#222","opacity":1},"encoding":{"x":{"field":"stage","type":"nominal","scale":{"domain":["pTa","pT1","pT2"]}},"y":{"field":"v","type":"quantitative"}}},
  {"data":{"name":"boxH"},"mark":{"type":"text","baseline":"bottom","dy":-4,"fontSize":17,"color":"#111"},"encoding":{"x":{"field":"stage","type":"nominal","scale":{"domain":["pTa","pT1","pT2"]}},"y":{"field":"q3","type":"quantitative"},"text":{"field":"lab"}}},
  {"data":{"values":[{}]},"mark":{"type":"text","align":"left","baseline":"middle","fontSize":13,"xOffset":107,"color":"#111"},"encoding":{"x":{"datum":"pT2","type":"nominal","scale":{"domain":["pTa","pT1","pT2"]}},"y":{"datum":56},"text":{"value":"Positive"}}},
  {"data":{"values":[{}]},"mark":{"type":"text","align":"left","baseline":"middle","fontSize":13,"xOffset":107,"color":"#111"},"encoding":{"x":{"datum":"pT2","type":"nominal","scale":{"domain":["pTa","pT1","pT2"]}},"y":{"datum":11},"text":{"value":"Negative"}}},
  {"data":{"name":"sigH"},"transform":[{"filter":{"field":"tier","equal":"outer"}}],"mark":{"type":"rule","color":"#4d4d4d","strokeWidth":1.5,"xOffset":1,"x2Offset":-3},"encoding":{"x":{"field":"from","type":"nominal","scale":{"domain":["pTa","pT1","pT2"]}},"x2":{"field":"to"},"y":{"datum":107.8}}},
  {"data":{"name":"sigH"},"transform":[{"filter":{"field":"tier","equal":"outer"}}],"mark":{"type":"rule","color":"#4d4d4d","strokeWidth":1.5,"xOffset":1},"encoding":{"x":{"field":"from","type":"nominal","scale":{"domain":["pTa","pT1","pT2"]}},"y":{"datum":107.8},"y2":{"datum":104.6}}},
  {"data":{"name":"sigH"},"transform":[{"filter":{"field":"tier","equal":"outer"}}],"mark":{"type":"rule","color":"#4d4d4d","strokeWidth":1.5,"xOffset":-3},"encoding":{"x":{"field":"to","type":"nominal","scale":{"domain":["pTa","pT1","pT2"]}},"y":{"datum":107.8},"y2":{"datum":104.6}}},
  {"data":{"name":"sigH"},"transform":[{"filter":{"field":"tier","equal":"outer"}}],"mark":{"type":"text","fontSize":26,"baseline":"alphabetic","dy":4,"xOffset":141,"color":"#000"},"encoding":{"x":{"field":"from","type":"nominal","scale":{"domain":["pTa","pT1","pT2"]}},"y":{"datum":107.8},"text":{"field":"star"}}},
  {"data":{"name":"sigH"},"transform":[{"filter":{"field":"tier","equal":"left"}}],"mark":{"type":"rule","color":"#4d4d4d","strokeWidth":1.5,"xOffset":1,"x2Offset":-9},"encoding":{"x":{"field":"from","type":"nominal","scale":{"domain":["pTa","pT1","pT2"]}},"x2":{"field":"to"},"y":{"datum":100.4}}},
  {"data":{"name":"sigH"},"transform":[{"filter":{"field":"tier","equal":"left"}}],"mark":{"type":"rule","color":"#4d4d4d","strokeWidth":1.5,"xOffset":1},"encoding":{"x":{"field":"from","type":"nominal","scale":{"domain":["pTa","pT1","pT2"]}},"y":{"datum":100.4},"y2":{"datum":97.2}}},
  {"data":{"name":"sigH"},"transform":[{"filter":{"field":"tier","equal":"left"}}],"mark":{"type":"rule","color":"#4d4d4d","strokeWidth":1.5,"xOffset":-9},"encoding":{"x":{"field":"to","type":"nominal","scale":{"domain":["pTa","pT1","pT2"]}},"y":{"datum":100.4},"y2":{"datum":97.2}}},
  {"data":{"name":"sigH"},"transform":[{"filter":{"field":"tier","equal":"left"}}],"mark":{"type":"text","fontSize":26,"baseline":"alphabetic","dy":4,"xOffset":67,"color":"#000"},"encoding":{"x":{"field":"from","type":"nominal","scale":{"domain":["pTa","pT1","pT2"]}},"y":{"datum":100.4},"text":{"field":"star"}}},
  {"data":{"name":"sigH"},"transform":[{"filter":{"field":"tier","equal":"right"}}],"mark":{"type":"rule","color":"#4d4d4d","strokeWidth":1.5,"xOffset":8,"x2Offset":-2},"encoding":{"x":{"field":"from","type":"nominal","scale":{"domain":["pTa","pT1","pT2"]}},"x2":{"field":"to"},"y":{"datum":100.4}}},
  {"data":{"name":"sigH"},"transform":[{"filter":{"field":"tier","equal":"right"}}],"mark":{"type":"rule","color":"#4d4d4d","strokeWidth":1.5,"xOffset":8},"encoding":{"x":{"field":"from","type":"nominal","scale":{"domain":["pTa","pT1","pT2"]}},"y":{"datum":100.4},"y2":{"datum":97.2}}},
  {"data":{"name":"sigH"},"transform":[{"filter":{"field":"tier","equal":"right"}}],"mark":{"type":"rule","color":"#4d4d4d","strokeWidth":1.5,"xOffset":-2},"encoding":{"x":{"field":"to","type":"nominal","scale":{"domain":["pTa","pT1","pT2"]}},"y":{"datum":100.4},"y2":{"datum":97.2}}},
  {"data":{"name":"sigH"},"transform":[{"filter":{"field":"tier","equal":"right"}}],"mark":{"type":"text","fontSize":26,"baseline":"alphabetic","dy":4,"xOffset":74,"color":"#000"},"encoding":{"x":{"field":"from","type":"nominal","scale":{"domain":["pTa","pT1","pT2"]}},"y":{"datum":100.4},"text":{"field":"star"}}}
 ]}
]}
]},
{"spacing": 14, "vconcat": [
{"width":46,"height":238,
 "data":{"name":"legend"},
 "transform":[{"stack":"n","groupby":[],"sort":[{"field":"k"}],"as":["y0","y1"]}],
 "layer":[
  {"mark":{"type":"bar","stroke":"#1a1a1a","strokeWidth":1.3},"encoding":{"x":{"datum":0,"type":"quantitative","scale":{"domain":[0,1],"nice":false},"axis":null},"x2":{"datum":1},"y":{"field":"y0","type":"quantitative","scale":{"domain":[0,4],"nice":false},"axis":null},"y2":{"field":"y1"},"color":{"field":"cat","type":"nominal","scale":{"domain":["Negative","Low expression","Intermediate expression","High expression"],"range":["#d9d9d9","#a6a6a6","#595959","#3f3f3f"]},"legend":null}}},
  {"mark":{"type":"bar","filled":false,"stroke":"#000","strokeWidth":2.4,"xOffset":4,"x2Offset":16,"yOffset":-1.5,"y2Offset":1.5,"strokeDash":[80.5,61.5]},"encoding":{"x":{"datum":1,"type":"quantitative"},"x2":{"datum":1},"y":{"field":"y0","type":"quantitative"},"y2":{"field":"y1"}}},
  {"mark":{"type":"text","align":"left","baseline":"middle","dx":33,"dy":32,"fontSize":16,"color":"#111"},"encoding":{"x":{"datum":1,"type":"quantitative"},"y":{"field":"y1","type":"quantitative"},"text":{"field":"cat"}}}
 ]},
{"width":79,"height":136,
 "data":{"name":"pvals"},
 "layer":[
  {"mark":{"type":"text","fontSize":22,"baseline":"middle","dy":6,"color":"#111"},"encoding":{"x":{"datum":0.24,"type":"quantitative","scale":{"domain":[0,1],"nice":false},"axis":null},"y":{"field":"sig","type":"nominal","sort":null,"axis":null},"text":{"field":"sig"}}},
  {"mark":{"type":"text","fontSize":25,"fontStyle":"italic","align":"left","baseline":"middle","color":"#111"},"encoding":{"x":{"datum":1,"type":"quantitative"},"y":{"field":"sig","type":"nominal","sort":null},"text":{"value":"p"}}},
  {"mark":{"type":"text","fontSize":25,"align":"left","baseline":"middle","dx":14,"color":"#111"},"encoding":{"x":{"datum":1,"type":"quantitative"},"y":{"field":"sig","type":"nominal","sort":null},"text":{"field":"cmp"}}}
 ]}
]}
]}
]
}
